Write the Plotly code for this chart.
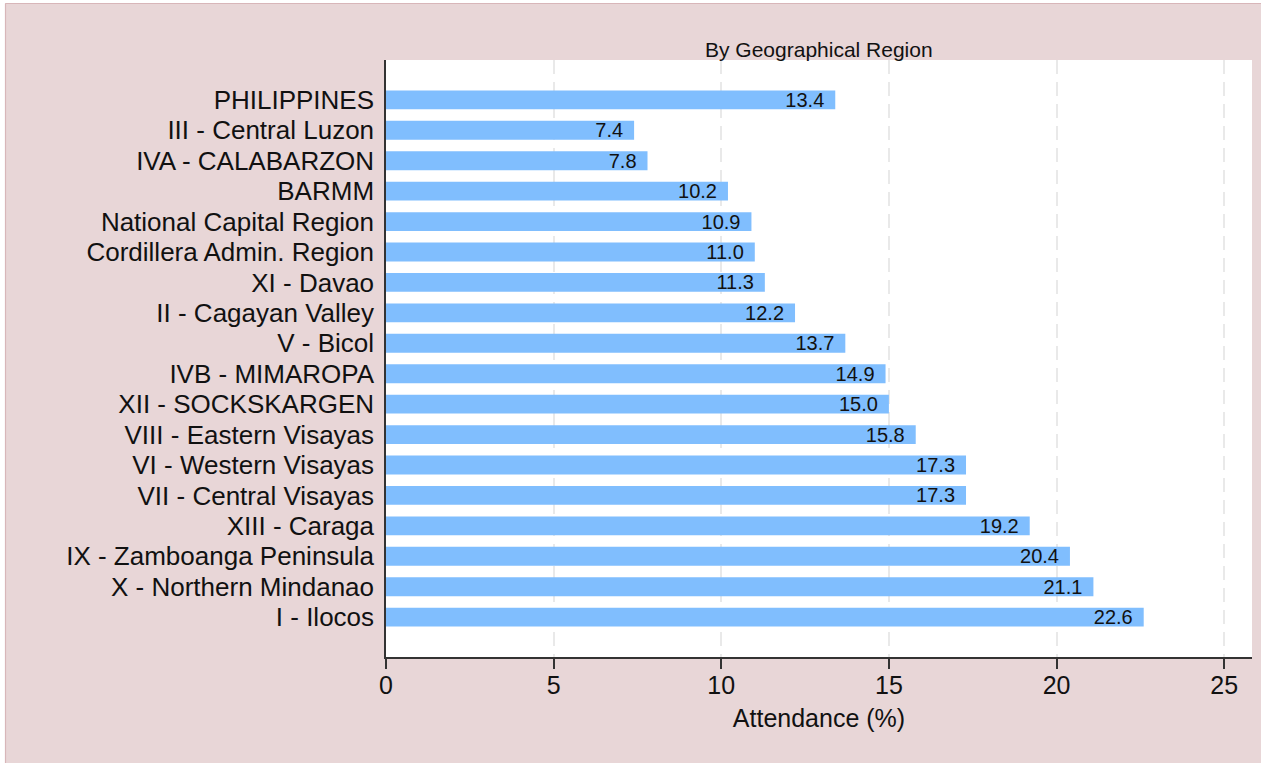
import plotly.graph_objects as go

regions = [
    "PHILIPPINES",
    "III - Central Luzon",
    "IVA - CALABARZON",
    "BARMM",
    "National Capital Region",
    "Cordillera Admin. Region",
    "XI - Davao",
    "II - Cagayan Valley",
    "V - Bicol",
    "IVB - MIMAROPA",
    "XII - SOCKSKARGEN",
    "VIII - Eastern Visayas",
    "VI - Western Visayas",
    "VII - Central Visayas",
    "XIII - Caraga",
    "IX - Zamboanga Peninsula",
    "X - Northern Mindanao",
    "I - Ilocos",
]
attendance = [13.4, 7.4, 7.8, 10.2, 10.9, 11.0, 11.3, 12.2, 13.7, 14.9,
              15.0, 15.8, 17.3, 17.3, 19.2, 20.4, 21.1, 22.6]
x_ticks = [0, 5, 10, 15, 20, 25]
chart_title = "By Geographical Region"
x_title = "Attendance (%)"

FONT = "Liberation Sans, Arial, Helvetica, sans-serif"
PINK = "#E8D6D7"

fig = go.Figure()
fig.add_trace(go.Bar(
    x=attendance,
    y=regions,
    orientation="h",
    width=0.62,
    marker=dict(color="#80BEFE", line=dict(width=0)),
    text=[f"{v:.1f}" + "\u2009\u2009" for v in attendance],
    textposition="inside",
    insidetextanchor="end",
    textangle=0,
    constraintext="none",
    textfont=dict(family=FONT, size=20, color="#111111"),
    hoverinfo="skip",
))

L, R, T, B = 386, 9, 60, 106
W, H = 1261, 763
pw, ph = W - L - R, H - T - B

def px_x(p):
    return (p - L) / pw

def px_y(p):
    return (H - B - p) / ph

shapes = [
    dict(type="rect", xref="paper", yref="paper", x0=px_x(-5), x1=px_x(5), y0=px_y(H + 5), y1=px_y(-5),
         fillcolor="white", line=dict(width=0), layer="above"),
    dict(type="rect", xref="paper", yref="paper", x0=px_x(-5), x1=px_x(W + 5), y0=px_y(3), y1=px_y(-5),
         fillcolor="white", line=dict(width=0), layer="above"),
    dict(type="line", xref="paper", yref="paper", x0=px_x(5.5), x1=px_x(5.5), y0=px_y(H + 5), y1=px_y(3.5),
         line=dict(color="#D8B6B9", width=1.2), layer="above"),
    dict(type="line", xref="paper", yref="paper", x0=px_x(5.5), x1=px_x(W + 5), y0=px_y(3.5), y1=px_y(3.5),
         line=dict(color="#D8B6B9", width=1.2), layer="above"),
]

fig.update_layout(
    width=W, height=H,
    margin=dict(l=L, r=R, t=T, b=B, autoexpand=False),
    paper_bgcolor=PINK,
    plot_bgcolor="white",
    showlegend=False,
    font=dict(family=FONT, color="#111111"),
    shapes=shapes,
    annotations=[dict(
        text=chart_title, xref="paper", yref="paper", x=0.5, y=1,
        xanchor="center", yanchor="middle", yshift=11, showarrow=False,
        font=dict(family=FONT, size=21, color="#111111"),
    )],
)

fig.update_xaxes(
    range=[0, 25.83],
    tickvals=x_ticks,
    ticktext=[str(t) for t in x_ticks],
    ticks="outside", ticklen=10, tickwidth=1.5, tickcolor="#333333",
    showline=True, linecolor="#333333", linewidth=1.5,
    showgrid=True, gridcolor="#E9E9E9", gridwidth=2, griddash="14px,8px",
    zeroline=False,
    tickfont=dict(family=FONT, size=25, color="#111111"),
    ticklabelstandoff=-5,
    title=dict(text=x_title, font=dict(family=FONT, size=25, color="#111111"), standoff=12),
)
fig.update_yaxes(
    categoryorder="array", categoryarray=regions,
    tickmode="array", tickvals=regions, ticktext=regions,
    range=[17 + 1.31, -1.31],
    showline=True, linecolor="#333333", linewidth=1.5,
    ticks="", showgrid=False, zeroline=False,
    tickfont=dict(family=FONT, size=26, color="#111111"),
    ticklabelstandoff=5,
)

fig.write_html(
    "out.html",
    config={"displayModeBar": False},
    post_script="document.body.style.margin='0px';document.body.style.overflow='hidden';",
)
